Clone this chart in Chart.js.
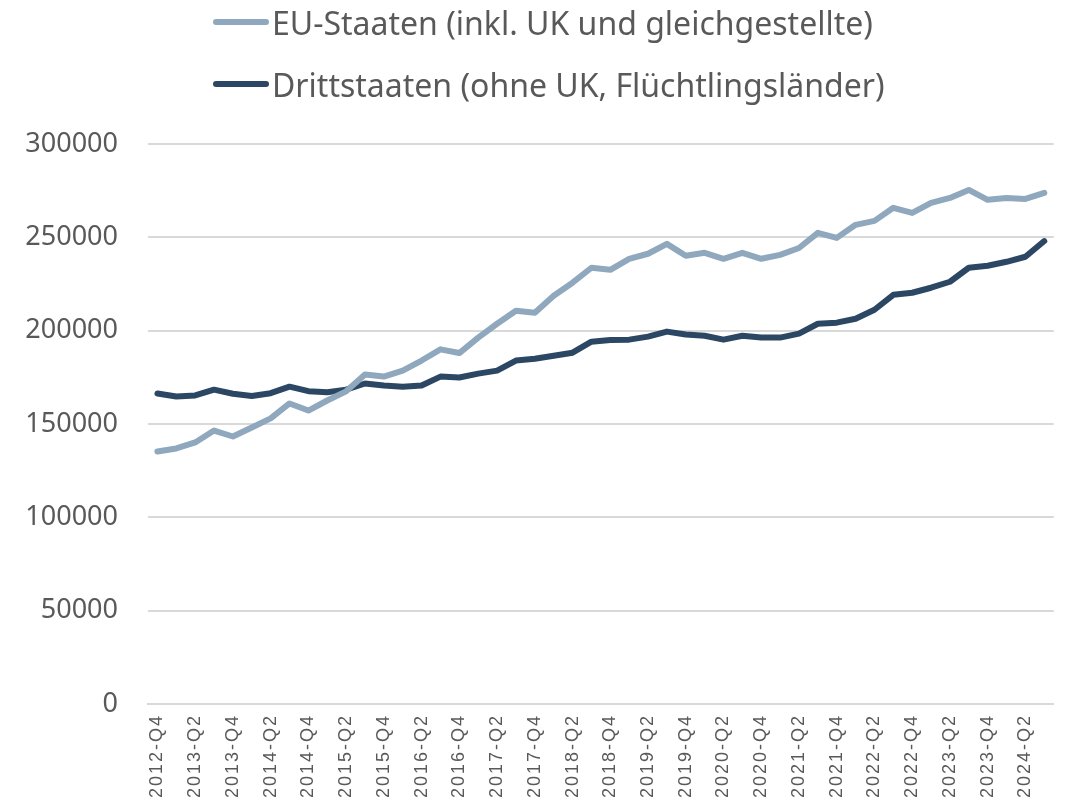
<!DOCTYPE html>
<html>
<head>
<meta charset="utf-8">
<script src="https://cdn.jsdelivr.net/npm/chart.js@4/dist/chart.umd.min.js"></script>
<style>
  body { margin: 0; background: #fff; }
  #wrap { position: relative; width: 1076px; height: 804px; }
  #legend { position: absolute; left: 213px; top: 0; font-family: "Noto Sans", sans-serif; font-size: 32px; color: #595959; }
  .item { position: absolute; left: 0; white-space: nowrap; display: flex; align-items: center; height: 44px; }
  .swatch { display: inline-block; width: 56px; height: 6px; border-radius: 3px; margin-right: 3px; }
</style>
</head>
<body>
<div id="wrap">
  <canvas id="chart" width="1076" height="804"></canvas>
  <div id="legend">
    <div class="item" style="top:0px"><span class="swatch" style="background:#8fa8be"></span>EU-Staaten (inkl. UK und gleichgestellte)</div>
    <div class="item" style="top:62px"><span class="swatch" style="background:#2c4763"></span>Drittstaaten (ohne UK, Flüchtlingsländer)</div>
  </div>
</div>
<script>
const quarters = [
  "2012-Q4",
  "2013-Q1", "2013-Q2", "2013-Q3", "2013-Q4",
  "2014-Q1", "2014-Q2", "2014-Q3", "2014-Q4",
  "2015-Q1", "2015-Q2", "2015-Q3", "2015-Q4",
  "2016-Q1", "2016-Q2", "2016-Q3", "2016-Q4",
  "2017-Q1", "2017-Q2", "2017-Q3", "2017-Q4",
  "2018-Q1", "2018-Q2", "2018-Q3", "2018-Q4",
  "2019-Q1", "2019-Q2", "2019-Q3", "2019-Q4",
  "2020-Q1", "2020-Q2", "2020-Q3", "2020-Q4",
  "2021-Q1", "2021-Q2", "2021-Q3", "2021-Q4",
  "2022-Q1", "2022-Q2", "2022-Q3", "2022-Q4",
  "2023-Q1", "2023-Q2", "2023-Q3", "2023-Q4",
  "2024-Q1", "2024-Q2", "2024-Q3"
];

const euStaaten = [
  135300, 136900, 140100, 146500, 143300, 148100, 153000, 161000,
  157200, 162600, 167500, 176500, 175400, 178600, 184000, 190000,
  188000, 196300, 203700, 210700, 209600, 218700, 225700, 233700,
  232600, 238500, 241200, 246500, 240100, 241700, 238500, 241700,
  238500, 240600, 244300, 252400, 249700, 256700, 258800, 265800,
  263100, 268500, 271100, 275400, 270100, 271100, 270600, 273800
];

const drittstaaten = [
  166300, 164700, 165300, 168400, 166200, 165000, 166500, 170000,
  167600, 167000, 168400, 171700, 170600, 170000, 170600, 175400,
  174900, 177000, 178600, 184000, 185000, 186600, 188200, 194100,
  195000, 195200, 196800, 199500, 197900, 197300, 195200, 197300,
  196300, 196300, 198400, 203700, 204300, 206400, 211200, 219200,
  220300, 223000, 226200, 233700, 234800, 236900, 239600, 248000
];

const yTicks = [0, 50000, 100000, 150000, 200000, 250000, 300000];

// x labels in the original are spaced out a bit
const spacedTicks = {
  id: "spacedTicks",
  beforeDraw(chart) {
    const sc = chart.scales.x;
    if (sc._spaced) return;
    const orig = sc.drawLabels.bind(sc);
    sc.drawLabels = (area) => {
      chart.ctx.save();
      chart.ctx.letterSpacing = "2px";
      orig(area);
      chart.ctx.restore();
    };
    sc._spaced = true;
  },
};

const ctx = document.getElementById("chart").getContext("2d");

new Chart(ctx, {
  type: "line",
  data: {
    labels: quarters,
    datasets: [
      {
        label: "EU-Staaten (inkl. UK und gleichgestellte)",
        data: euStaaten,
        borderColor: "#8fa8be",
        backgroundColor: "#8fa8be",
        borderWidth: 6,
        pointRadius: 0,
        tension: 0,
        borderJoinStyle: "round",
        borderCapStyle: "round",
      },
      {
        label: "Drittstaaten (ohne UK, Flüchtlingsländer)",
        data: drittstaaten,
        borderColor: "#2c4763",
        backgroundColor: "#2c4763",
        borderWidth: 6,
        pointRadius: 0,
        tension: 0,
        borderJoinStyle: "round",
        borderCapStyle: "round",
      },
    ],
  },
  plugins: [spacedTicks],
  options: {
    responsive: false,
    animation: false,
    layout: { padding: { top: 144, right: 12, left: 0, bottom: 0 } },
    plugins: {
      legend: { display: false },
      tooltip: { enabled: false },
    },
    scales: {
      x: {
        offset: true,
        grid: { display: false, drawTicks: false },
        border: { display: true, color: "#d9d9d9", width: 2 },
        afterFit: (scale) => { scale.height = 100; },
        ticks: {
          autoSkip: false,
          minRotation: 90,
          maxRotation: 90,
          padding: 10,
          color: "#595959",
          font: { family: "'Liberation Sans', Arial, sans-serif", size: 18 },
          callback: function (val, i) {
            return i % 2 === 0 ? quarters[i] : "";
          },
        },
      },
      y: {
        min: 0,
        max: 300000,
        afterFit: (scale) => { scale.width = 148; },
        afterBuildTicks: (scale) => { scale.ticks = yTicks.map((v) => ({ value: v })); },
        grid: { color: "#d9d9d9", lineWidth: 2, drawTicks: false },
        border: { display: false },
        ticks: {
          padding: 30,
          color: "#595959",
          font: { family: "'Noto Sans', sans-serif", size: 27 },
          callback: (v) => String(v),
        },
      },
    },
  },
});
</script>
</body>
</html>
